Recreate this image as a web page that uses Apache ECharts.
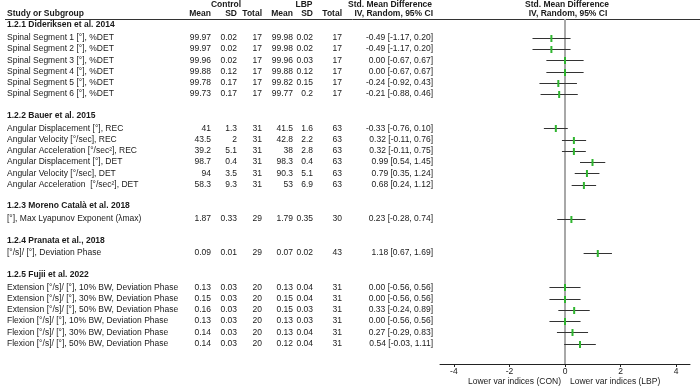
<!DOCTYPE html>
<html>
<head>
<meta charset="utf-8">
<script src="https://cdn.jsdelivr.net/npm/echarts@6/dist/echarts.min.js"></script>
<style>
  html, body { margin: 0; padding: 0; background: #fff; }
  #main { width: 700px; height: 387px; }
</style>
</head>
<body>
<div id="main"></div>
<script>
// subgroups and how many rows each holds
const groups = [
  "1.2.1 Dideriksen et al. 2014",
  "1.2.2 Bauer et al. 2015",
  "1.2.3 Moreno Català et al. 2018",
  "1.2.4 Pranata et al., 2018",
  "1.2.5 Fujii et al. 2022"
]
const groupSizes = [6, 6, 1, 1, 6]

const studies = [
  "Spinal Segment 1 [°], %DET",
  "Spinal Segment 2 [°], %DET",
  "Spinal Segment 3 [°], %DET",
  "Spinal Segment 4 [°], %DET",
  "Spinal Segment 5 [°], %DET",
  "Spinal Segment 6 [°], %DET",
  "Angular Displacement [°], REC",
  "Angular Velocity [°/sec], REC",
  "Angular Acceleration [°/sec²], REC",
  "Angular Displacement [°], DET",
  "Angular Velocity [°/sec], DET",
  "Angular Acceleration  [°/sec²], DET",
  "[°], Max Lyapunov Exponent (λmax)",
  "[°/s]/ [°], Deviation Phase",
  "Extension [°/s]/ [°], 10% BW, Deviation Phase",
  "Extension [°/s]/ [°], 30% BW, Deviation Phase",
  "Extension [°/s]/ [°], 50% BW, Deviation Phase",
  "Flexion [°/s]/ [°], 10% BW, Deviation Phase",
  "Flexion [°/s]/ [°], 30% BW, Deviation Phase",
  "Flexion [°/s]/ [°], 50% BW, Deviation Phase"
]

const ctrlMean = [99.97, 99.97, 99.96, 99.88, 99.78, 99.73, 41, 43.5, 39.2, 98.7, 94, 58.3, 1.87, 0.09, 0.13, 0.15, 0.16, 0.13, 0.14, 0.14]
const ctrlSD = [0.02, 0.02, 0.02, 0.12, 0.17, 0.17, 1.3, 2, 5.1, 0.4, 3.5, 9.3, 0.33, 0.01, 0.03, 0.03, 0.03, 0.03, 0.03, 0.03]
const ctrlN = [17, 17, 17, 17, 17, 17, 31, 31, 31, 31, 31, 31, 29, 29, 20, 20, 20, 20, 20, 20]
const lbpMean = [99.98, 99.98, 99.96, 99.88, 99.82, 99.77, 41.5, 42.8, 38, 98.3, 90.3, 53, 1.79, 0.07, 0.13, 0.15, 0.15, 0.13, 0.13, 0.12]
const lbpSD = [0.02, 0.02, 0.03, 0.12, 0.15, 0.2, 1.6, 2.2, 2.8, 0.4, 5.1, 6.9, 0.35, 0.02, 0.04, 0.04, 0.03, 0.03, 0.04, 0.04]
const lbpN = [17, 17, 17, 17, 17, 17, 63, 63, 63, 63, 63, 63, 30, 43, 31, 31, 31, 31, 31, 31]
const smd = [-0.49, -0.49, 0, 0, -0.24, -0.21, -0.33, 0.32, 0.32, 0.99, 0.79, 0.68, 0.23, 1.18, 0, 0, 0.33, 0, 0.27, 0.54]
const ciLow = [-1.17, -1.17, -0.67, -0.67, -0.92, -0.88, -0.76, -0.11, -0.11, 0.54, 0.35, 0.24, -0.28, 0.67, -0.56, -0.56, -0.24, -0.56, -0.29, -0.03]
const ciHigh = [0.2, 0.2, 0.67, 0.67, 0.43, 0.46, 0.1, 0.76, 0.75, 1.45, 1.24, 1.12, 0.74, 1.69, 0.56, 0.56, 0.89, 0.56, 0.83, 1.11]

const xTicks = [-4, -2, 0, 2, 4]

// row layout (in row units)
const FAMILY = "'Liberation Sans', Arial, sans-serif"
const FONT = "8.5px " + FAMILY
const BOLD = "bold 8.5px " + FAMILY
const TXT = "#1a1a1a"
const rows = []
let yy = 0.53
let k = 0
groups.forEach(function (g, gi) {
  rows.push({ kind: "group", text: g, y: yy })
  yy += 1.15
  for (let j = 0; j < groupSizes[gi]; j++) {
    rows.push({ kind: "study", i: k, y: yy })
    k++
    yy += 1
  }
  yy += 0.9
})
const studyY = rows.filter(r => r.kind === "study").map(r => r.y)

function fmt(v) { return String(v) }

// column right edges for table
const cols = [
  { x: 211, f: i => fmt(ctrlMean[i]) },
  { x: 237, f: i => fmt(ctrlSD[i]) },
  { x: 262, f: i => fmt(ctrlN[i]) },
  { x: 293, f: i => fmt(lbpMean[i]) },
  { x: 313, f: i => fmt(lbpSD[i]) },
  { x: 342, f: i => fmt(lbpN[i]) },
  { x: 433, f: i => smd[i].toFixed(2) + " [" + ciLow[i].toFixed(2) + ", " + ciHigh[i].toFixed(2) + "]" }
]

function hText(text, x, y, align, bold) {
  return {
    type: "text",
    x: x,
    y: y,
    style: { text: text, font: bold ? BOLD : FONT, fill: TXT, align: align, verticalAlign: "middle" }
  }
}

const chart = echarts.init(document.getElementById("main"))

const option = {
  animation: false,
  grid: [
    { left: 0, right: 0, top: 19, bottom: 23, outerBoundsMode: "none", containLabel: false },
    { left: 440, width: 250, top: 19, bottom: 23, outerBoundsMode: "none", containLabel: false }
  ],
  xAxis: [
    { gridIndex: 0, type: "value", min: 0, max: 700, show: false },
    {
      gridIndex: 1,
      type: "value",
      min: -4.5,
      max: 4.5,
      splitLine: { show: false },
      axisLine: { show: true, onZero: false, lineStyle: { color: "#222", width: 1 } },
      axisTick: { show: true, length: 3, customValues: xTicks, lineStyle: { color: "#222" } },
      axisLabel: {
        customValues: xTicks,
        margin: 3,
        color: TXT,
        fontSize: 8.5,
        fontFamily: FAMILY
      }
    }
  ],
  yAxis: [
    { gridIndex: 0, type: "value", min: 0, max: 30.7, inverse: true, show: false },
    { gridIndex: 1, type: "value", min: 0, max: 30.7, inverse: true, show: false }
  ],
  graphic: [
    hText("Control", 226, 5, "center", true),
    hText("LBP", 304, 5, "center", true),
    hText("Std. Mean Difference", 390, 5, "center", true),
    hText("Std. Mean Difference", 567, 5, "center", true),
    hText("Study or Subgroup", 7, 14, "left", true),
    hText("Mean", 211, 14, "right", true),
    hText("SD", 237, 14, "right", true),
    hText("Total", 262, 14, "right", true),
    hText("Mean", 293, 14, "right", true),
    hText("SD", 313, 14, "right", true),
    hText("Total", 342, 14, "right", true),
    hText("IV, Random, 95% CI", 433, 14, "right", true),
    hText("IV, Random, 95% CI", 568, 14, "center", true),
    hText("Lower var indices (CON)", 561, 382, "right", false),
    hText("Lower var indices (LBP)", 570, 382, "left", false),
    {
      type: "line",
      shape: { x1: 5, y1: 19.5, x2: 700, y2: 19.5 },
      style: { stroke: "#333", lineWidth: 1 }
    }
  ],
  series: [
    {
      // table text
      type: "custom",
      xAxisIndex: 0,
      yAxisIndex: 0,
      clip: false,
      data: rows.map(r => [0, r.y]),
      encode: { x: 0, y: 1 },
      renderItem: function (params, api) {
        const r = rows[params.dataIndex]
        const p = api.coord([0, api.value(1)])
        if (r.kind === "group") {
          return hText(r.text, 7, p[1], "left", true)
        }
        const children = [hText(studies[r.i], 7, p[1], "left", false)]
        cols.forEach(function (c) {
          children.push(hText(c.f(r.i), c.x, p[1], "right", false))
        })
        return { type: "group", children: children }
      }
    },
    {
      // forest plot
      type: "custom",
      xAxisIndex: 1,
      yAxisIndex: 1,
      clip: false,
      data: smd.map((v, i) => [v, ciLow[i], ciHigh[i], studyY[i]]),
      encode: { x: [0, 1, 2], y: 3 },
      renderItem: function (params, api) {
        const y = api.value(3)
        const a = api.coord([api.value(1), y])
        const b = api.coord([api.value(2), y])
        const m = api.coord([api.value(0), y])
        const yc = Math.round(a[1]) + 0.5
        return {
          type: "group",
          children: [
            {
              type: "line",
              shape: { x1: a[0], y1: yc, x2: b[0], y2: yc },
              style: { stroke: "#333", lineWidth: 1 }
            },
            {
              type: "rect",
              shape: { x: m[0] - 1, y: yc - 3.5, width: 2, height: 7 },
              style: { fill: "#2fb52f" }
            }
          ]
        }
      },
      markLine: {
        silent: true,
        symbol: "none",
        label: { show: false },
        z: 1,
        lineStyle: { color: "#a8a8a8", width: 2, type: "solid" },
        data: [{ xAxis: 0 }]
      },
      z: 3
    }
  ]
}

chart.setOption(option)
</script>
</body>
</html>
